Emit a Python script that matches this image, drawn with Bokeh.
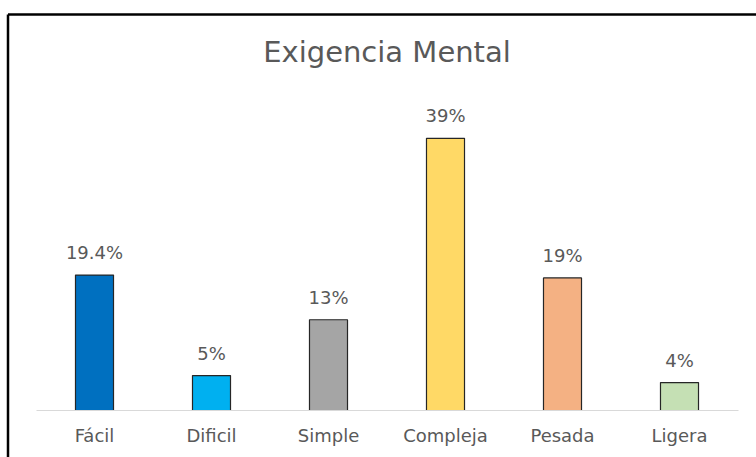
from bokeh.plotting import figure
from bokeh.models import Range1d, ColumnDataSource, LabelSet, Label, FixedTicker, LinearAxis
from bokeh.core.properties import value
from bokeh.embed import file_html
from bokeh.resources import INLINE

# ---- data ----
categories = ["Fácil", "Dificil", "Simple", "Compleja", "Pesada", "Ligera"]
values = [19.4, 5, 13, 39, 19, 4]
value_labels = ["19.4%", "5%", "13%", "39%", "19%", "4%"]
colors = ["#0070C0", "#00B0F0", "#A5A5A5", "#FFD966", "#F4B183", "#C5E0B4"]
title_text = "Exigencia Mental"

W, H = 756, 457
x0_px, step_px = 94.0, 117.0      # centre of first category, spacing
base_px, ppu = 410.0, 6.98        # baseline pixel, pixels per percent

xs = list(range(len(categories)))
x_start = -x0_px / step_px
x_end = (W - x0_px) / step_px
y_end = base_px / ppu
y_start = -(H - base_px) / ppu

p = figure(width=W, height=H, output_backend="svg", toolbar_location=None,
           x_range=Range1d(x_start, x_end), y_range=Range1d(y_start, y_end),
           min_border_left=0, min_border_right=0, min_border_top=0, min_border_bottom=0,
           x_axis_location=None, y_axis_location=None)
p.background_fill_color = "white"
p.border_fill_color = "white"
p.outline_line_color = None
p.xgrid.visible = False
p.ygrid.visible = False

src = ColumnDataSource(dict(x=xs, top=values, color=colors, lab=value_labels))
p.vbar(x="x", top="top", bottom=0, width=0.325, source=src,
       fill_color="color", line_color="#262626", line_width=1.2)

labels = LabelSet(x="x", y="top", text="lab", source=src, y_offset=16,
                  text_align="center", text_baseline="alphabetic",
                  text_font=value("DejaVu Sans"), text_font_size=value("18px"),
                  text_color=value("#595959"))
p.add_layout(labels)

# category axis drawn at the baseline
ax = LinearAxis(fixed_location=0, ticker=FixedTicker(ticks=xs),
                major_label_overrides={i: c for i, c in zip(xs, categories)},
                bounds=(-0.5, len(categories) - 0.5))
ax.axis_line_color = "#D9D9D9"
ax.axis_line_width = 1.2
ax.major_tick_line_color = None
ax.minor_tick_line_color = None
ax.major_tick_out = 0
ax.major_tick_in = 0
ax.major_label_standoff = 14
ax.major_label_text_font = "DejaVu Sans"
ax.major_label_text_font_size = "18px"
ax.major_label_text_color = "#595959"
p.add_layout(ax, "below")

title = Label(x=(len(categories) - 1) / 2, y=(base_px - 51) / ppu, text=title_text,
              text_align="center", text_baseline="middle",
              text_font="DejaVu Sans", text_font_size="29px", text_color="#595959")
p.add_layout(title)

# chart border (left and top edges visible)
bx = (7.5 - x0_px) / step_px
by = (base_px - 14) / ppu
p.segment(x0=[bx, bx], y0=[by, by], x1=[bx, x_end], y1=[y_start, by],
          line_color="black", line_width=2.5)

open("out.html", "w").write(file_html(p, INLINE))
